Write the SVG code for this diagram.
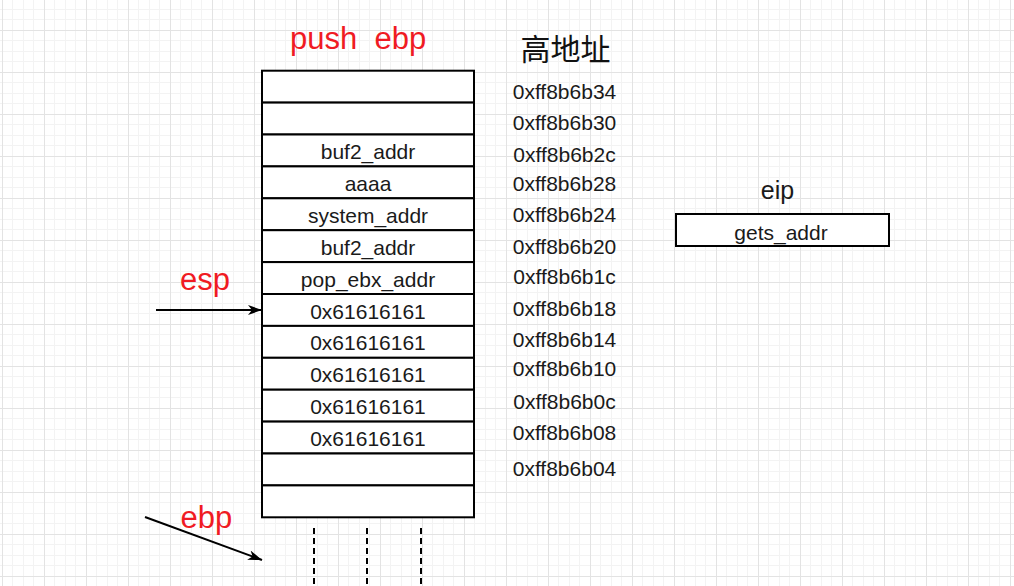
<svg xmlns="http://www.w3.org/2000/svg" width="1014" height="586" viewBox="0 0 1014 586">
<defs>
<pattern id="grid" patternUnits="userSpaceOnUse" x="2" y="30" width="42" height="42">
<rect x="0" y="0" width="42" height="42" fill="#ffffff"/>
<rect x="10" y="0" width="1" height="42" fill="#f3f3f3"/>
<rect x="21" y="0" width="1" height="42" fill="#f3f3f3"/>
<rect x="31" y="0" width="1" height="42" fill="#f3f3f3"/>
<rect x="0" y="10" width="42" height="1" fill="#f3f3f3"/>
<rect x="0" y="21" width="42" height="1" fill="#f3f3f3"/>
<rect x="0" y="31" width="42" height="1" fill="#f3f3f3"/>
<rect x="0" y="0" width="1" height="42" fill="#e3e3e3"/>
<rect x="0" y="0" width="42" height="1" fill="#e3e3e3"/>
</pattern>
<marker id="arr" markerUnits="userSpaceOnUse" viewBox="0 0 14 11" refX="14" refY="5.5" markerWidth="14" markerHeight="11" orient="auto">
<path d="M0,0.5 L14,5.5 L0,10.5 L4,5.5 Z" fill="#000"/>
</marker>
<style>
.cell{fill:#fff;stroke:#000;stroke-width:2}
.t{font-family:"Liberation Sans",Arial,sans-serif;font-size:21px;fill:#1a1a1a;text-anchor:middle}
.red{font-family:"Liberation Sans",Arial,sans-serif;font-size:31px;fill:#f01b23}
.conn{stroke:#000;stroke-width:2;fill:none}
.dash{stroke:#000;stroke-width:2;fill:none;stroke-dasharray:6 4}
</style>
</defs>
<rect x="0" y="0" width="1014" height="586" fill="url(#grid)"/>

<g id="stack">
<g id="cell0"><rect class="cell" x="262" y="70.7" width="212" height="31.9"/></g>
<g id="cell1"><rect class="cell" x="262" y="102.6" width="212" height="31.9"/></g>
<g id="cell2"><rect class="cell" x="262" y="134.5" width="212" height="31.9"/><text class="t" x="368" y="159">buf2_addr</text></g>
<g id="cell3"><rect class="cell" x="262" y="166.4" width="212" height="31.9"/><text class="t" x="368" y="190.8">aaaa</text></g>
<g id="cell4"><rect class="cell" x="262" y="198.3" width="212" height="31.9"/><text class="t" x="368" y="222.8">system_addr</text></g>
<g id="cell5"><rect class="cell" x="262" y="230.2" width="212" height="31.9"/><text class="t" x="368" y="254.7">buf2_addr</text></g>
<g id="cell6"><rect class="cell" x="262" y="262.1" width="212" height="31.9"/><text class="t" x="368" y="286.6">pop_ebx_addr</text></g>
<g id="cell7"><rect class="cell" x="262" y="294" width="212" height="31.9"/><text class="t" x="368" y="318.5">0x61616161</text></g>
<g id="cell8"><rect class="cell" x="262" y="325.9" width="212" height="31.9"/><text class="t" x="368" y="350.4">0x61616161</text></g>
<g id="cell9"><rect class="cell" x="262" y="357.8" width="212" height="31.9"/><text class="t" x="368" y="382.3">0x61616161</text></g>
<g id="cell10"><rect class="cell" x="262" y="389.7" width="212" height="31.9"/><text class="t" x="368" y="414.2">0x61616161</text></g>
<g id="cell11"><rect class="cell" x="262" y="421.6" width="212" height="31.9"/><text class="t" x="368" y="446.1">0x61616161</text></g>
<g id="cell12"><rect class="cell" x="262" y="453.5" width="212" height="31.9"/></g>
<g id="cell13"><rect class="cell" x="262" y="485.4" width="212" height="31.9"/></g>
</g>

<g id="eip-box"><rect class="cell" x="676" y="214" width="213" height="32"/><text class="t" x="781" y="240">gets_addr</text></g>

<g id="labels">
<text id="push-ebp" class="red" x="290" y="48.5" xml:space="preserve">push  ebp</text>
<text id="esp-label" class="red" x="180" y="290">esp</text>
<text id="ebp-label" class="red" x="180.5" y="527.5">ebp</text>
<text id="eip-label" x="777.5" y="198.5" text-anchor="middle" font-family="Liberation Sans, Arial, sans-serif" font-size="25" fill="#1a1a1a">eip</text>
<text id="high-addr" x="565.5" y="60" text-anchor="middle" font-family="Noto Sans CJK SC, sans-serif" font-size="30" fill="#111">高地址</text>
</g>

<g id="addresses">
<text class="t" x="564.5" y="99.3">0xff8b6b34</text>
<text class="t" x="564.5" y="130.3">0xff8b6b30</text>
<text class="t" x="564.5" y="161.7">0xff8b6b2c</text>
<text class="t" x="564.5" y="190.7">0xff8b6b28</text>
<text class="t" x="564.5" y="222.3">0xff8b6b24</text>
<text class="t" x="564.5" y="254">0xff8b6b20</text>
<text class="t" x="564.5" y="284.3">0xff8b6b1c</text>
<text class="t" x="564.5" y="315.7">0xff8b6b18</text>
<text class="t" x="564.5" y="347.3">0xff8b6b14</text>
<text class="t" x="564.5" y="375.7">0xff8b6b10</text>
<text class="t" x="564.5" y="409">0xff8b6b0c</text>
<text class="t" x="564.5" y="440">0xff8b6b08</text>
<text class="t" x="564.5" y="475.7">0xff8b6b04</text>
</g>

<g id="connectors">
<line class="conn" x1="156" y1="310" x2="262" y2="310" marker-end="url(#arr)"/>
<line class="conn" x1="145" y1="517" x2="262" y2="560" marker-end="url(#arr)"/>
<line class="dash" x1="314" y1="528" x2="314" y2="586"/>
<line class="dash" x1="367" y1="528" x2="367" y2="586"/>
<line class="dash" x1="421" y1="528" x2="421" y2="586"/>
</g>
</svg>
